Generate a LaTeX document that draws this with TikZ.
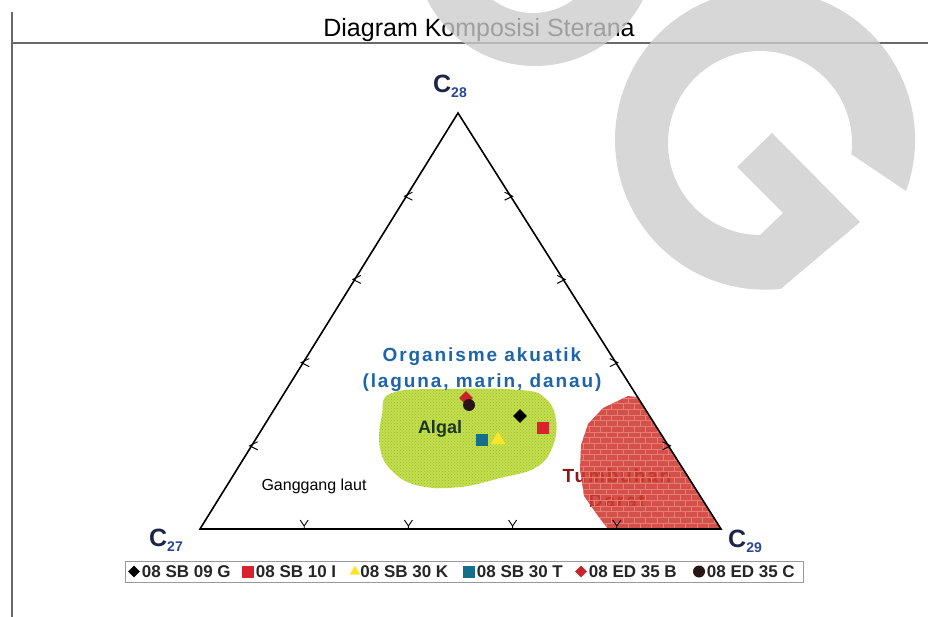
\documentclass[tikz,border=0pt]{standalone}
\usepackage{fontspec}
\setmainfont{Liberation Sans}
\newfontfamily\widefont[LetterSpace=10]{Liberation Sans}
\usepackage{xcolor}
\definecolor{navyc}{RGB}{30,38,72}
\definecolor{navysub}{RGB}{40,70,150}
\definecolor{framegray}{RGB}{105,105,105}
\definecolor{aquablue}{RGB}{30,100,170}
\definecolor{algae}{RGB}{196,222,78}
\definecolor{algaedot}{RGB}{150,188,45}
\definecolor{algaltxt}{RGB}{28,55,30}
\definecolor{landred}{RGB}{205,58,50}
\definecolor{landbrick}{RGB}{232,125,115}
\definecolor{landtxt}{RGB}{135,28,22}
\definecolor{sbred}{RGB}{215,35,45}
\definecolor{sbyellow}{RGB}{250,230,40}
\definecolor{sbteal}{RGB}{20,110,140}
\definecolor{edred}{RGB}{200,35,40}
\definecolor{edblack}{RGB}{40,22,22}
\usetikzlibrary{calc,positioning,shapes.geometric,patterns}
\newcommand\csub[1]{\raisebox{-5pt}{\fontsize{14}{14}\selectfont\color{navysub}#1}}
\tikzset{
  frame/.style={draw=framegray, line width=2.5pt},
  titletext/.style={font=\fontsize{25}{28}\selectfont, text=black, inner sep=0pt},
  triside/.style={draw=black, line width=1.6pt, line join=miter},
  tick/.style={draw=black, line width=0.9pt},
  corner/.style={font=\fontsize{25}{26}\selectfont\bfseries, text=navyc, inner sep=0pt},
  algaezone/.style={fill=algae, postaction={pattern=crosshatch dots, pattern color=algaedot}},
  landzone/.style={fill=landred, fill opacity=0.88, postaction={pattern=bricks, pattern color=landbrick}},
  aquatext/.style={font={\widefont\bfseries\fontsize{19}{26}\selectfont}, text=aquablue, align=center, inner sep=0pt},
  landtext/.style={font={\widefont\bfseries\fontsize{19}{25}\selectfont}, text=landtxt, align=center, inner sep=0pt},
  algaltext/.style={font=\fontsize{18}{20}\selectfont\bfseries, text=algaltxt, inner sep=0pt},
  seabox/.style={fill=white, font=\fontsize{16}{18}\selectfont, minimum width=132pt, minimum height=28pt, inner sep=0pt},
  smp/.style={inner sep=0pt, draw=none},
  dia/.style={smp, diamond, minimum size=14pt},
  sq/.style={smp, rectangle, minimum size=12pt},
  tri/.style={smp, regular polygon, regular polygon sides=3, minimum size=17pt},
  dot/.style={smp, circle, minimum size=12pt},
  sbG/.style={dia, fill=black},
  sbI/.style={sq, fill=sbred},
  sbK/.style={tri, fill=sbyellow},
  sbT/.style={sq, fill=sbteal},
  edB/.style={dia, fill=edred},
  edC/.style={dot, fill=edblack},
  legendbox/.style={draw=black!40, line width=0.8pt, minimum width=678pt, minimum height=21pt, inner sep=0pt},
  legtext/.style={font=\fontsize{17}{18}\selectfont\bfseries, text=black!85, inner sep=0pt},
  wmark/.style={fill=black!20, fill opacity=0.78},
}

\begin{document}
\begin{tikzpicture}[x=1pt,y=-1pt]
    \useasboundingbox (0,0) rectangle (928,617);
    \fill[white] (0,0) rectangle (928,617);

    \draw[frame] (12,12) -- (12,617);
    \draw[frame] (12,43) -- (928,43);
    \node[titletext, anchor=base] (title) at (479,37) {Diagram Komposisi Sterana};

    \coordinate (v27) at (200,529);
    \coordinate (v28) at (458,113);
    \coordinate (v29) at (721,529);

    \path[algaezone] plot[smooth cycle, tension=0.7] coordinates {
      (392,393) (450,389) (520,390) (545,398) (556,420) (552,448) (535,468)
      (500,478) (460,487) (420,486) (393,472) (380,448) (382,415)};

    \node[landtext] (land) at (617,488) {Tumbuhan\\Darat};
    \path[landzone] (628,396) -- (637,397) -- (v29) -- (608,529) -- (598,516)
      -- (584,496) -- (580,470) -- (581,445) -- (588,424) -- (603,408) -- cycle;

    \draw[triside] (v27) -- (v28) -- (v29) -- cycle;

    \begin{scope}[every path/.style=tick]
      \foreach \t in {0.2,0.4,0.6,0.8} {
        \draw ($(v27)!\t!(v28)$) ++(6,-4) -- ++(-8,4) -- ++(8,4);
        \draw ($(v28)!\t!(v29)$) ++(-6,-4) -- ++(8,4) -- ++(-8,4);
        \draw ($(v27)!\t!(v29)$) ++(-4,-9) -- ++(4,6) -- ++(4,-6) ++(-4,6) -- ++(0,3);
      }
    \end{scope}

    \node[corner] (c27) at (166,540) {C\csub{27}};
    \node[corner] (c28) at (450,86) {C\csub{28}};
    \node[corner] (c29) at (745,541) {C\csub{29}};

    \node[aquatext] (aqua) at (482,370) {Organisme akuatik\\(laguna, marin, danau)};
    \node[algaltext] (algal) at (440,429) {Algal};
    \node[seabox] (sea) at (314,486) {Ganggang laut};

    \node[edB] (pB) at (466,398) {};
    \node[edC] (pC) at (469,405) {};
    \node[sbG] (pG) at (520,416) {};
    \node[sbI] (pI) at (543,428) {};
    \node[sbT] (pT) at (482,440) {};
    \node[sbK] (pK) at (498,440) {};

    \node[legendbox] (legend) at (464,571.5) {};
    \foreach \s/\x/\txt in {sbG/134/08 SB 09 G, sbI/248/08 SB 10 I, sbK/355/08 SB 30 K,
                             sbT/469/08 SB 30 T, edB/581/08 ED 35 B, edC/699/08 ED 35 C} {
      \node[\s, minimum size=12pt] (sym-\s) at (\x,571.5) {};
      \node[legtext, right=1.5pt of sym-\s] (lab-\s) {\txt};
    }

    \begin{scope}
      \clip (0,0) rectangle (928,617);
      \fill[wmark, even odd rule] (535,-55) circle[radius=121] (533,-55) circle[radius=68];
    \end{scope}
    \fill[wmark] (906,191) arc[start angle=20, end angle=-276, radius=150] -- (860,222)
      -- (772,133) -- (737,167) -- (783,213) -- (760,235)
      arc[start angle=90, end angle=367, radius=92] -- cycle;
\end{tikzpicture}
\end{document}
